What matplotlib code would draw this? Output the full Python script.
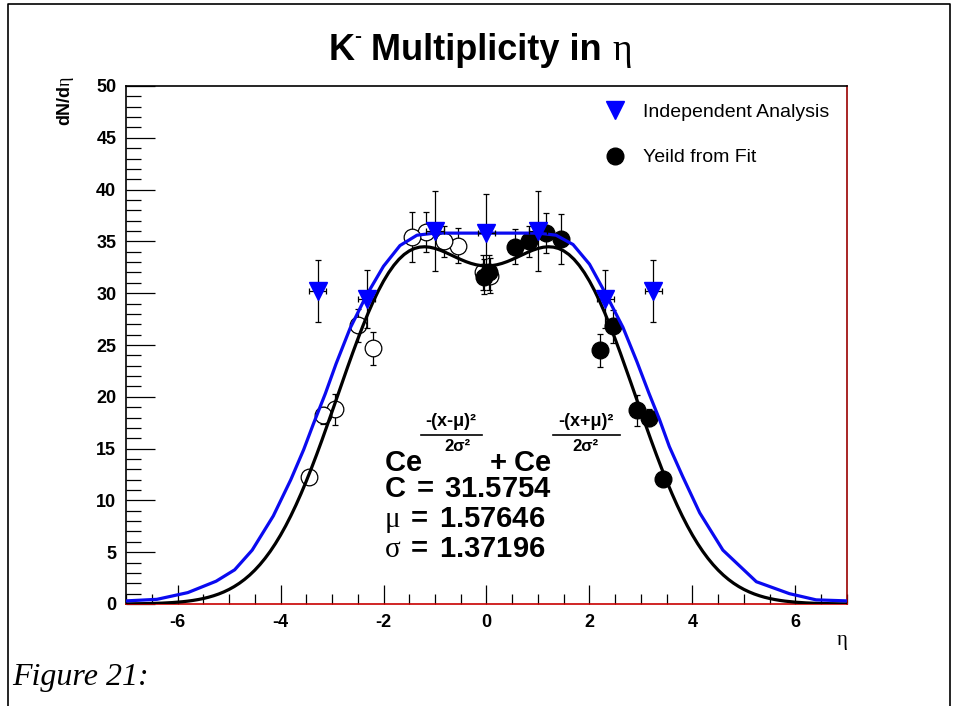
"""
K- multiplicity in eta: independent analysis, fitted yields and double-gaussian fit
"""

import numpy as np
import matplotlib
matplotlib.use('Agg')
from matplotlib import pyplot as plt
from matplotlib import font_manager
from matplotlib.lines import Line2D
from matplotlib.ticker import MultipleLocator

plt.rcParams['font.family'] = ['Liberation Sans', 'DejaVu Sans']
plt.rcParams['mathtext.fontset'] = 'custom'
plt.rcParams['mathtext.rm'] = 'Liberation Serif'
plt.rcParams['mathtext.bf'] = 'Liberation Sans:bold'
plt.rcParams['mathtext.it'] = 'Liberation Serif:italic'
plt.rcParams['mathtext.sf'] = 'Liberation Sans'

names = {f.name for f in font_manager.fontManager.ttflist}
narrow = 'Liberation Sans Narrow' if 'Liberation Sans Narrow' in names else 'Liberation Sans'

# Independent analysis (blue triangles)
ind_eta = [-3.28, -2.33, -1.0, 0.0, 1.0, 2.31, 3.24]
ind_val = [30.2, 29.4, 36.0, 35.8, 36.0, 29.4, 30.2]
ind_err = [3.0, 2.8, 3.9, 3.8, 3.9, 2.8, 3.0]
ind_xerr = [0.17, 0.17, 0.17, 0.17, 0.17, 0.17, 0.17]

# Yield from fit (filled) and reflected points (open)
fit_eta = [-0.05, 0.05, 0.55, 0.83, 1.15, 1.45, 2.2, 2.45, 2.92, 3.15, 3.42]
fit_val = [31.6, 32.0, 34.5, 35.0, 35.8, 35.2, 24.5, 26.8, 18.7, 18.0, 12.1]
fit_err = [1.7, 1.7, 1.7, 1.5, 1.9, 2.4, 1.6, 1.6, 1.5, 0.8, 0.5]
refl_eta = [0.06, -0.06, -0.56, -0.83, -1.17, -1.44, -2.21, -2.5, -2.95, -3.18, -3.44]
refl_val = [31.7, 32.0, 34.6, 35.0, 35.9, 35.4, 24.7, 26.9, 18.8, 18.2, 12.3]
refl_err = [1.7, 1.7, 1.7, 1.5, 1.9, 2.4, 1.6, 1.6, 1.5, 0.8, 0.5]

# Blue curve
blue_eta = [-7.0, -6.4, -5.8, -5.25, -4.89, -4.55, -4.14, -3.8, -3.55, -3.36,
            -3.13, -2.92, -2.65, -2.33, -2.0, -1.68, -1.35, -1.0, -0.5, 0.0, 0.5,
            1.0, 1.35, 1.68, 2.0, 2.33, 2.65, 2.92, 3.15, 3.36, 3.55, 3.81, 4.14,
            4.59, 5.24, 5.88, 6.4, 7.0]
blue_val = [0.3, 0.45, 1.1, 2.2, 3.3, 5.2, 8.5, 12.0, 14.9, 17.4,
            20.3, 23.2, 26.6, 29.8, 32.6, 34.6, 35.6, 35.8, 35.8, 35.8, 35.8,
            35.8, 35.6, 34.7, 32.8, 29.8, 26.7, 23.4, 20.4, 17.8, 15.2, 12.3, 8.8,
            5.2, 2.15, 1.0, 0.4, 0.3]

# Fit parameters shown on the chart
C = 31.5754
mu = 1.57646
sigma = 1.37196

eta_ticks = [-6, -4, -2, 0, 2, 4, 6]
eta_labels = ['-6', '-4', '-2', '0', '2', '4', '6']
y_ticks = [0, 5, 10, 15, 20, 25, 30, 35, 40, 45, 50]
y_labels = ['0', '5', '10', '15', '20', '25', '30', '35', '40', '45', '50']

W, H = 959, 706
fig = plt.figure(figsize=(W / 100, H / 100), dpi=100)
ax = fig.add_axes([126 / W, 1 - 604 / H, 721 / W, 518 / H])


def fx(px):
    return px / W


def fy(py):
    return 1 - py / H


# Data points
ax.errorbar(refl_eta, refl_val, yerr=refl_err, fmt='o', ms=12, mfc='white', mec='black',
            mew=0.9, ecolor='black', elinewidth=0.9, capsize=2.2, capthick=0.9, zorder=3)
ax.errorbar(fit_eta, fit_val, yerr=fit_err, fmt='o', ms=12, color='black',
            ecolor='black', elinewidth=0.9, capsize=2.2, capthick=0.9, zorder=3)
ax.errorbar(ind_eta, ind_val, yerr=ind_err, xerr=ind_xerr, fmt='v', ms=13, color='blue',
            ecolor='black', elinewidth=0.9, capsize=2.2, capthick=0.9, zorder=5)

# Fit curves
xs = np.linspace(-7, 7, 141)
fit_curve = C * np.exp(-(xs - mu) ** 2 / (2 * sigma ** 2)) + C * np.exp(-(xs + mu) ** 2 / (2 * sigma ** 2))
ax.plot(xs, fit_curve, color='black', lw=2.3, zorder=4)
ax.plot(blue_eta, blue_val, color='#0a0af0', lw=2.3, zorder=4)

ax.set_xlim(-7, 7)
ax.set_ylim(0, 50)
ax.set_xticks(eta_ticks, labels=eta_labels, fontweight='bold', fontsize=13)
ax.set_yticks(y_ticks, labels=y_labels, fontweight='bold', fontsize=13)
ax.xaxis.set_minor_locator(MultipleLocator(0.5))
ax.yaxis.set_minor_locator(MultipleLocator(1))
ax.tick_params(axis='x', which='major', direction='in', length=14, width=0.9, pad=7)
ax.tick_params(axis='x', which='minor', direction='in', length=7, width=0.9)
ax.tick_params(axis='y', which='major', direction='in', length=21, width=0.9, pad=7)
ax.tick_params(axis='y', which='minor', direction='in', length=11, width=0.9)
ax.spines['top'].set_color('black')
ax.spines['left'].set_color('black')
ax.spines['right'].set_color('#9a0000')
ax.spines['bottom'].set_color('#c80000')
for s in ax.spines.values():
    s.set_linewidth(1.2)

# Legend without frame
handles = [Line2D([], [], ls='none', marker='v', color='blue', ms=13),
           Line2D([], [], ls='none', marker='o', color='black', ms=12)]
ax.legend(handles, ['Independent Analysis', 'Yeild from Fit'], frameon=False,
          loc='upper left', bbox_to_anchor=(fx(606), fy(103)), bbox_transform=fig.transFigure,
          borderaxespad=0, borderpad=0, handlelength=0.95, handletextpad=0.95,
          labelspacing=1.45, fontsize=14)

# Title in pieces
renderer = fig.canvas.get_renderer()
title_parts = [('K', dict(family=narrow, weight='bold', size=26), 0),
               ('-', dict(family=narrow, weight='bold', size=15), 18),
               (' Multiplicity in ', dict(family=narrow, weight='bold', size=26), 0),
               ('η', dict(family='Liberation Serif', size=27), 0)]
texts = []
for s, props, dy in title_parts:
    t = fig.text(0, 0, s, va='baseline', ha='left', **props)
    texts.append((t, dy))
widths = [t.get_window_extent(renderer).width for t, dy in texts]
x0 = 480 - sum(widths) / 2
for (t, dy), w in zip(texts, widths):
    t.set_position((fx(x0), fy(60 - dy)))
    x0 += w

# Axis labels
fig.text(fx(66), fy(76), r'$\mathbf{dN/d}\mathrm{\eta}$', rotation=90, ha='center', va='top', size=13)
fig.text(fx(842), fy(640), 'η', family='Liberation Serif', size=15, ha='center', va='center')

# Formula annotation
fig.text(fx(384), fy(471), r'$\mathbf{Ce}$', size=21, va='baseline')
fig.text(fx(489), fy(471), r'$\mathbf{+\ Ce}$', size=21, va='baseline')
fig.text(fx(451), fy(422), '-(x-μ)²', weight='bold', size=13, ha='center', va='center')
fig.text(fx(586), fy(422), '-(x+μ)²', weight='bold', size=13, ha='center', va='center')
fig.text(fx(457), fy(446), '2σ²', weight='bold', size=12, ha='center', va='center')
fig.text(fx(585), fy(446), '2σ²', weight='bold', size=12, ha='center', va='center')
fig.add_artist(Line2D([fx(421), fx(482)], [fy(435), fy(435)], color='black', lw=1.2))
fig.add_artist(Line2D([fx(553), fx(620)], [fy(435), fy(435)], color='black', lw=1.2))
fig.text(fx(384), fy(497), r'$\mathbf{C\ =\ 31.5754}$', size=21, va='baseline')
fig.text(fx(384), fy(527), r'$\mathrm{\mu}\ \mathbf{=\ 1.57646}$', size=21, va='baseline')
fig.text(fx(384), fy(557), r'$\mathrm{\sigma}\ \mathbf{=\ 1.37196}$', size=21, va='baseline')

# Caption and page frame
fig.text(fx(12), fy(678), 'Figure 21:', family='Liberation Serif', style='italic', size=23, va='center')
fig.add_artist(Line2D([fx(8), fx(8), fx(950), fx(950)], [0, fy(4), fy(4), 0], color='black', lw=1.2))

plt.savefig('out.png', dpi=100)
